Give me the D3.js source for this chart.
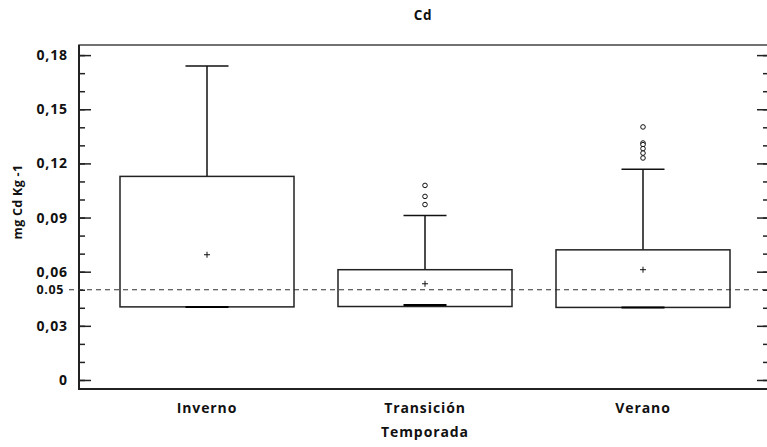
<!DOCTYPE html>
<html>
<head>
<meta charset="utf-8">
<script src="https://cdn.jsdelivr.net/npm/d3@7"></script>
<style>
  body { margin: 0; background: #fff; }
  text { font-family: "Open Sans", sans-serif; font-weight: bold; fill: #111; }
</style>
</head>
<body>
<div id="chart"></div>
<script>
// seasons on the x axis
var seasons = ["Inverno", "Transición", "Verano"];
// box statistics per season (mg Cd / kg)
var whiskerLow = [0.0405, 0.0405, 0.0402];
var q1 = [0.0405, 0.0407, 0.0402];
var medians = [0.0405, 0.0415, 0.0402];
var q3 = [0.1128, 0.0611, 0.0721];
var whiskerHigh = [0.1739, 0.0911, 0.1168];
var means = [0.0694, 0.0533, 0.0611];
var outliers = [
  [],
  [0.1078, 0.1017, 0.0972],
  [0.1402, 0.1313, 0.1304, 0.1282, 0.1257, 0.1230]
];
var yTicks = [0, 0.03, 0.06, 0.09, 0.12, 0.15, 0.18];
var limit = 0.05;

(function() {
var width = 767, height = 447;
var pLeft = 79, pRight = 769, pTop = 45, pBottom = 389;

var svg = d3.select("#chart").append("svg")
  .attr("width", width)
  .attr("height", height);

var y = d3.scaleLinear().domain([-0.005, 0.1856]).range([pBottom, pTop]);
var x = d3.scalePoint().domain(seasons).range([207, 643]);
var boxW = 174, capW = 43;

// minor + major ticks on both sides, pointing inward
var minorTicks = d3.range(0, 0.185, 0.01);

svg.append("g")
  .attr("transform", "translate(" + pLeft + ",0)")
  .call(d3.axisRight(y).tickValues(minorTicks).tickSize(6).tickFormat(""))
  .call(function(g) { g.select(".domain").remove(); });

svg.append("g")
  .attr("class", "axis y-axis")
  .attr("transform", "translate(" + pLeft + ",0)")
  .call(d3.axisRight(y).tickValues(yTicks).tickSize(12).tickFormat(function(d) {
    return d === 0 ? "0" : d3.format(".2f")(d).replace(".", ",");
  }))
  .call(function(g) {
    g.select(".domain").remove();
    g.selectAll(".tick text").attr("x", -11).attr("text-anchor", "end")
      .style("font-size", "14px").style("letter-spacing", "0.9px");
  });

svg.append("g")
  .attr("transform", "translate(" + pRight + ",0)")
  .call(d3.axisLeft(y).tickValues(minorTicks).tickSize(6).tickFormat(""))
  .call(function(g) { g.select(".domain").remove(); });

svg.append("g")
  .attr("transform", "translate(" + pRight + ",0)")
  .call(d3.axisLeft(y).tickValues(yTicks).tickSize(12).tickFormat(""))
  .call(function(g) { g.select(".domain").remove(); });

svg.selectAll(".tick line").attr("stroke", "#222").attr("stroke-width", 1.5);

// frame
svg.append("rect")
  .attr("x", pLeft).attr("y", pTop)
  .attr("width", pRight - pLeft).attr("height", pBottom - pTop)
  .attr("fill", "none").attr("stroke", "#444").attr("stroke-width", 1.5);
svg.append("path")
  .attr("d", "M" + pLeft + "," + pTop + "V" + pBottom + "H" + pRight)
  .attr("fill", "none").attr("stroke", "#222").attr("stroke-width", 2);

// reference limit
svg.append("line")
  .attr("x1", 69).attr("x2", width)
  .attr("y1", y(limit)).attr("y2", y(limit))
  .attr("stroke", "#333").attr("stroke-width", 1.2)
  .attr("stroke-dasharray", "5,4");
svg.append("text")
  .attr("x", 64).attr("y", y(limit)).attr("dy", "0.35em")
  .attr("text-anchor", "end").style("font-size", "12.5px").style("letter-spacing", "0.6px")
  .text("0.05");

var boxes = svg.selectAll(".box")
  .data(seasons)
  .enter().append("g")
  .attr("class", "box");

boxes.append("line")
  .attr("x1", function(d) { return x(d); })
  .attr("x2", function(d) { return x(d); })
  .attr("y1", function(d, i) { return y(q3[i]); })
  .attr("y2", function(d, i) { return y(whiskerHigh[i]); })
  .attr("stroke", "#111").attr("stroke-width", 1.5);

boxes.append("line")
  .attr("x1", function(d) { return x(d) - capW / 2; })
  .attr("x2", function(d) { return x(d) + capW / 2; })
  .attr("y1", function(d, i) { return y(whiskerHigh[i]); })
  .attr("y2", function(d, i) { return y(whiskerHigh[i]); })
  .attr("stroke", "#111").attr("stroke-width", 1.5);

boxes.append("line")
  .attr("x1", function(d) { return x(d); })
  .attr("x2", function(d) { return x(d); })
  .attr("y1", function(d, i) { return y(q1[i]); })
  .attr("y2", function(d, i) { return y(whiskerLow[i]); })
  .attr("stroke", "#111").attr("stroke-width", 1.5);

boxes.append("rect")
  .attr("x", function(d) { return x(d) - boxW / 2; })
  .attr("width", boxW)
  .attr("y", function(d, i) { return y(q3[i]); })
  .attr("height", function(d, i) { return y(q1[i]) - y(q3[i]); })
  .attr("fill", "none").attr("stroke", "#222").attr("stroke-width", 1.5);

boxes.append("line")
  .attr("x1", function(d) { return x(d) - capW / 2; })
  .attr("x2", function(d) { return x(d) + capW / 2; })
  .attr("y1", function(d, i) { return y(medians[i]); })
  .attr("y2", function(d, i) { return y(medians[i]); })
  .attr("stroke", "#000").attr("stroke-width", 2);

// mean markers
boxes.append("path")
  .attr("d", function(d, i) {
    var cx = x(d), cy = y(means[i]);
    return "M" + (cx - 3) + "," + cy + "H" + (cx + 3) + "M" + cx + "," + (cy - 3) + "V" + (cy + 3);
  })
  .attr("stroke", "#111").attr("stroke-width", 1);

// outliers
boxes.each(function(d, i) {
  d3.select(this).selectAll("circle")
    .data(outliers[i])
    .enter().append("circle")
    .attr("cx", x(d))
    .attr("cy", function(v) { return y(v); })
    .attr("r", 2.3)
    .attr("fill", "#fff").attr("stroke", "#111").attr("stroke-width", 1);
});

// category labels
svg.selectAll(".xlabel")
  .data(seasons)
  .enter().append("text")
  .attr("class", "xlabel")
  .attr("x", function(d) { return x(d); })
  .attr("y", 408).attr("dy", "0.35em")
  .attr("text-anchor", "middle").style("font-size", "14px").style("letter-spacing", "0.9px")
  .text(function(d) { return d; });

svg.append("text")
  .attr("x", 425).attr("y", 432).attr("dy", "0.35em")
  .attr("text-anchor", "middle").style("font-size", "14px").style("letter-spacing", "0.9px")
  .text("Temporada");

svg.append("text")
  .attr("x", 423).attr("y", 15).attr("dy", "0.35em")
  .attr("text-anchor", "middle").style("font-size", "13.5px").style("letter-spacing", "0.8px")
  .text("Cd");

svg.append("text")
  .attr("transform", "translate(18,202) rotate(-90)")
  .attr("dy", "0.35em")
  .attr("text-anchor", "middle").style("font-size", "12.5px").style("letter-spacing", "0.3px")
  .text("mg Cd Kg -1");
})();
</script>
</body>
</html>
